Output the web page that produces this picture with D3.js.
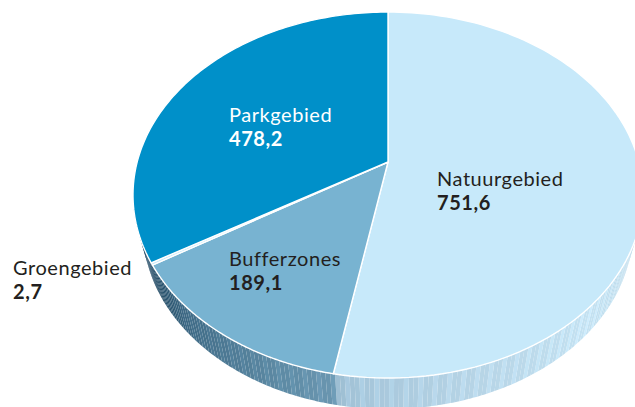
<!DOCTYPE html>
<html>
<head>
<meta charset="utf-8">
<script src="https://cdn.jsdelivr.net/npm/d3@7"></script>
<style>
  html, body { margin: 0; padding: 0; background: #fff; overflow: hidden; }
  text { font-family: Lato, sans-serif; font-size: 20px; letter-spacing: 0.55px; }
  .val { font-weight: 700; }
</style>
</head>
<body>
<div id="chart"></div>
<script>
const categories = ["Natuurgebied", "Bufferzones", "Groengebied", "Parkgebied"];
const values = [751.6, 189.1, 2.7, 478.2];
const valueLabels = ["751,6", "189,1", "2,7", "478,2"];
const sliceColors = ["#c7e9fa", "#78b3d1", "#c7e9fa", "#0090c9"];
const labelColors = ["#231f20", "#231f20", "#231f20", "#ffffff"];

const width = 635, height = 407;
const svg = d3.select("#chart").append("svg").attr("width", width).attr("height", height);

// the pie is drawn tilted: the apex sits above the centre of the ellipse
const top_ = { cx: 388, cy: 195, rx: 255, ry: 183, apex: -33 };
const c = top_.apex / top_.ry;
const k = top_.rx * Math.sqrt(1 - c * c);
function project(a) {
  const X = Math.sin(a), Y = -Math.cos(a), w = 1 + c * Y;
  return [top_.cx + k * X / w, top_.cy + (top_.ry * Y + top_.apex) / w];
}
// lower rim of the wall
const rim = { cx: 388, cy: 229, rx: 245, ry: 180 };
function projectRim(a) {
  const [x, y] = project(a);
  const tx = (x - top_.cx) / top_.rx, ty = (y - top_.cy) / top_.ry;
  return [rim.cx + rim.rx * tx, rim.cy + rim.ry * ty];
}

const pie = d3.pie().sort(null).value(d => d);
const arcs = pie(values);
const line = d3.line();

function sampleAngles(a0, a1, n) {
  return d3.range(n + 1).map(i => a0 + (a1 - a0) * i / n);
}

// wall shading along the pie angle
const deg = d3.scaleLinear().domain([0, 180]).range([0, Math.PI]);
const wallColor = d3.scaleLinear()
  .domain([95, 110, 135, 165, 185, 190.2, 190.4, 200, 225, 238, 239, 260].map(deg))
  .range(["#b4ccd9", "#b8d6e6", "#c4e2f2", "#b5d3e5", "#a6c6da", "#9cbdd2", "#6a96b0", "#5f8ca6", "#3f6a85", "#1f4862", "#0f3b58", "#0b3550"]);

const wall = svg.append("g");
const wallSteps = d3.range(0, 170);
const wallStart = deg(98), wallEnd = deg(256);
wallSteps.forEach(i => {
  const a0 = wallStart + (wallEnd - wallStart) * i / wallSteps.length;
  const a1 = wallStart + (wallEnd - wallStart) * (i + 1) / wallSteps.length;
  const pts = sampleAngles(a0, a1, 2);
  const outline = pts.map(project).concat(pts.slice().reverse().map(projectRim));
  const col = d3.color(wallColor((a0 + a1) / 2));
  wall.append("path")
    .attr("d", line(outline) + "Z")
    .attr("fill", i % 3 === 0 ? col.brighter(0.12) : col)
    .attr("stroke", "none");
});

svg.append("g").selectAll("path")
  .data(arcs)
  .join("path")
  .attr("d", d => {
    const rimPts = sampleAngles(d.startAngle, d.endAngle, 120).map(project);
    return line([[top_.cx, top_.cy + top_.apex]].concat(rimPts)) + "Z";
  })
  .attr("fill", (d, i) => sliceColors[i])
  .attr("stroke", "#fff")
  .attr("stroke-width", 1.4)
  .attr("stroke-linejoin", "round");

const labelPos = [[437, 186], [229, 266], [13, 275], [229, 122]];
const labels = svg.append("g").selectAll("g")
  .data(categories)
  .join("g")
  .attr("transform", (d, i) => `translate(${labelPos[i][0]},${labelPos[i][1]})`)
  .attr("fill", (d, i) => labelColors[i]);
labels.append("text").text(d => d);
labels.append("text").attr("class", "val").attr("y", 24).text((d, i) => valueLabels[i]);
</script>
</body>
</html>
